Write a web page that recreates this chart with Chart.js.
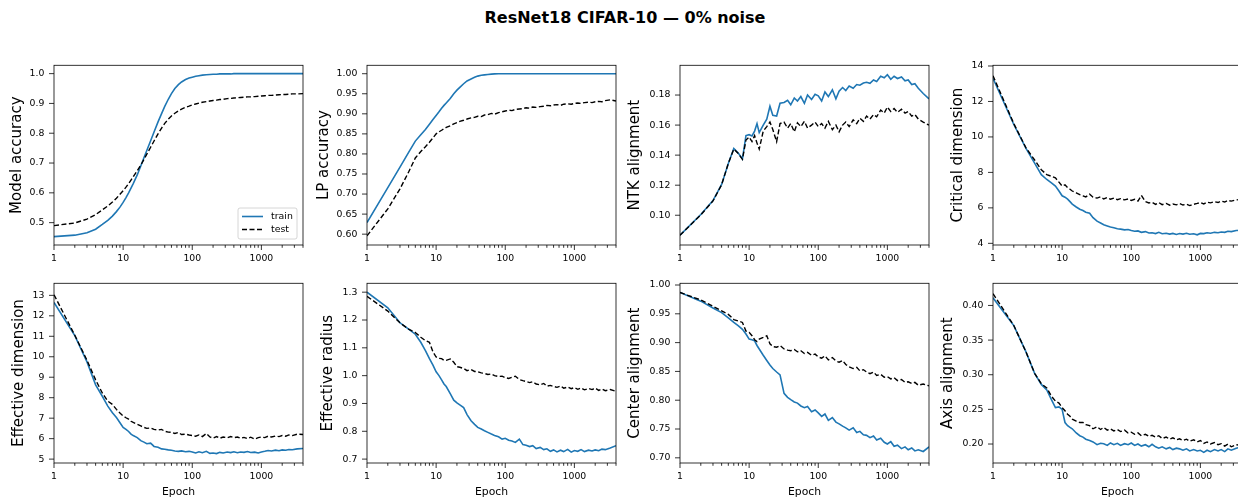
<!DOCTYPE html>
<html>
<head>
<meta charset="utf-8">
<script src="https://cdn.jsdelivr.net/npm/chart.js@4.4.1/dist/chart.umd.min.js"></script>
<style>
  html, body { margin: 0; padding: 0; background: #fff; }
  body { width: 1238px; height: 500px; position: relative; overflow: hidden; font-family: 'DejaVu Sans', sans-serif; }
  #title { position: absolute; left: 425px; width: 400px; top: 8px; line-height: 20px; text-align: center;
           font-weight: bold; font-size: 16px; color: #000; }
  canvas { position: absolute; }
</style>
</head>
<body>
<div id="title">ResNet18 CIFAR-10 — 0% noise</div>
<script>
const epochs = [1, 2, 3, 4, 5, 6, 7, 8, 9, 10, 11, 12, 13, 14,
  16, 18, 20, 22, 25, 28, 32, 36, 40, 45, 50, 56, 63, 70, 80, 90, 100,
  112, 125, 140, 160, 180, 200, 225, 250, 280, 320, 360, 400, 450, 500, 560, 630, 700, 800, 900, 1000,
  1120, 1250, 1400, 1600, 1800, 2000, 2250, 2500, 2800, 3300, 4000];
const epochTicks = [1, 10, 100, 1000];

const accTrain = [0.453, 0.458, 0.466, 0.478, 0.494, 0.508, 0.522, 0.537, 0.552, 0.568, 0.584, 0.600, 0.616, 0.631,
  0.660, 0.690, 0.718, 0.742, 0.775, 0.804, 0.838, 0.866, 0.890, 0.914, 0.933, 0.950, 0.963, 0.972, 0.980, 0.985, 0.988,
  0.991, 0.993, 0.995, 0.996, 0.997, 0.998, 0.998, 0.999, 0.999, 0.999, 0.999, 1.0, 1.0, 1.0, 1.0, 1.0, 1.0, 1.0, 1.0, 1.0,
  1.0, 1.0, 1.0, 1.0, 1.0, 1.0, 1.0, 1.0, 1.0, 1.0, 1.0];
const accTest = [0.490, 0.499, 0.512, 0.527, 0.543, 0.556, 0.569, 0.582, 0.595, 0.607, 0.619, 0.631, 0.643, 0.654,
  0.674, 0.693, 0.712, 0.730, 0.753, 0.774, 0.798, 0.817, 0.833, 0.847, 0.858, 0.867, 0.875, 0.881, 0.887, 0.891, 0.895,
  0.898, 0.901, 0.904, 0.906, 0.908, 0.910, 0.911, 0.913, 0.914, 0.916, 0.917, 0.918, 0.919, 0.920, 0.921, 0.922, 0.922, 0.923, 0.924, 0.925,
  0.926, 0.927, 0.927, 0.928, 0.929, 0.930, 0.930, 0.931, 0.932, 0.932, 0.933];

const lpTrain = [0.629, 0.716, 0.767, 0.804, 0.832, 0.848, 0.861, 0.874, 0.886, 0.896, 0.905, 0.914, 0.921, 0.927,
  0.938, 0.950, 0.959, 0.966, 0.975, 0.982, 0.987, 0.991, 0.994, 0.996, 0.997, 0.998, 0.999, 0.9995, 0.9997, 0.9998, 0.9999,
  1.0, 1.0, 1.0, 1.0, 1.0, 1.0, 1.0, 1.0, 1.0, 1.0, 1.0, 1.0, 1.0, 1.0, 1.0, 1.0, 1.0, 1.0, 1.0, 1.0,
  1.0, 1.0, 1.0, 1.0, 1.0, 1.0, 1.0, 1.0, 1.0, 1.0, 1.0];
const lpTest = [0.596, 0.663, 0.713, 0.755, 0.790, 0.806, 0.818, 0.829, 0.840, 0.850, 0.855, 0.859, 0.863, 0.866,
  0.870, 0.875, 0.878, 0.881, 0.884, 0.887, 0.890, 0.891, 0.894, 0.893, 0.897, 0.898, 0.901, 0.899, 0.903, 0.905, 0.907,
  0.909, 0.908, 0.911, 0.912, 0.913, 0.915, 0.914, 0.917, 0.916, 0.918, 0.919, 0.921, 0.920, 0.922, 0.923, 0.921, 0.924, 0.925, 0.924, 0.926,
  0.927, 0.926, 0.928, 0.929, 0.928, 0.930, 0.931, 0.930, 0.933, 0.935, 0.932];

const ntkTrain = [0.0867, 0.1005, 0.1098, 0.1205, 0.1345, 0.1445, 0.1412, 0.1375, 0.1530, 0.1536, 0.1528, 0.1560, 0.1610, 0.1550,
  0.1600, 0.1640, 0.1725, 0.1665, 0.1660, 0.1745, 0.1750, 0.1765, 0.1735, 0.1780, 0.1760, 0.1790, 0.1745, 0.1800, 0.1770, 0.1805, 0.1795,
  0.1760, 0.1820, 0.1790, 0.1835, 0.1775, 0.1825, 0.1850, 0.1830, 0.1860, 0.1845, 0.1870, 0.1865, 0.1880, 0.1885, 0.1878, 0.1900, 0.1890, 0.1925, 0.1915, 0.1935,
  0.1905, 0.1925, 0.1910, 0.1920, 0.1895, 0.1900, 0.1870, 0.1875, 0.1845, 0.1810, 0.1775];
const ntkTest = [0.0867, 0.1003, 0.1095, 0.1203, 0.1345, 0.1440, 0.1410, 0.1372, 0.1500, 0.1520, 0.1490, 0.1530, 0.1480, 0.1440,
  0.1560, 0.1590, 0.1620, 0.1570, 0.1490, 0.1610, 0.1620, 0.1580, 0.1610, 0.1555, 0.1615, 0.1590, 0.1625, 0.1580, 0.1600, 0.1620, 0.1590,
  0.1610, 0.1580, 0.1625, 0.1570, 0.1600, 0.1555, 0.1600, 0.1620, 0.1590, 0.1635, 0.1610, 0.1645, 0.1625, 0.1660, 0.1640, 0.1670, 0.1655, 0.1700, 0.1680, 0.1720,
  0.1690, 0.1710, 0.1685, 0.1705, 0.1680, 0.1690, 0.1660, 0.1670, 0.1640, 0.1620, 0.1600];

const critTrain = [13.30, 10.70, 9.35, 8.52, 7.87, 7.60, 7.41, 7.23, 6.95, 6.68, 6.60, 6.49, 6.35, 6.21,
  6.05, 5.92, 5.85, 5.75, 5.70, 5.45, 5.25, 5.15, 5.05, 4.98, 4.92, 4.88, 4.82, 4.80, 4.76, 4.78, 4.72,
  4.68, 4.70, 4.62, 4.66, 4.58, 4.60, 4.55, 4.62, 4.54, 4.57, 4.52, 4.56, 4.50, 4.55, 4.52, 4.57, 4.51, 4.54, 4.48, 4.56,
  4.55, 4.60, 4.57, 4.62, 4.60, 4.64, 4.62, 4.68, 4.66, 4.72, 4.74];
const critTest = [13.45, 10.75, 9.38, 8.70, 8.15, 7.87, 7.78, 7.69, 7.45, 7.23, 7.30, 7.14, 7.05, 6.95,
  6.85, 6.75, 6.68, 6.62, 6.77, 6.60, 6.55, 6.62, 6.50, 6.58, 6.49, 6.55, 6.46, 6.52, 6.45, 6.50, 6.42,
  6.48, 6.38, 6.70, 6.35, 6.28, 6.32, 6.20, 6.30, 6.18, 6.25, 6.15, 6.22, 6.17, 6.24, 6.16, 6.21, 6.13, 6.20, 6.25, 6.30,
  6.22, 6.32, 6.28, 6.35, 6.30, 6.38, 6.33, 6.42, 6.38, 6.45, 6.48];

const effDimTrain = [12.65, 11.03, 9.75, 8.63, 8.07, 7.59, 7.27, 7.03, 6.78, 6.55, 6.45, 6.35, 6.22, 6.15,
  6.05, 5.90, 5.83, 5.75, 5.78, 5.62, 5.58, 5.50, 5.48, 5.45, 5.43, 5.40, 5.38, 5.40, 5.36, 5.38, 5.35,
  5.30, 5.36, 5.31, 5.38, 5.28, 5.30, 5.27, 5.33, 5.30, 5.35, 5.32, 5.36, 5.31, 5.35, 5.33, 5.37, 5.32, 5.34, 5.30, 5.35,
  5.38, 5.42, 5.40, 5.44, 5.41, 5.45, 5.43, 5.47, 5.46, 5.50, 5.52];
const effDimTest = [13.03, 11.05, 9.83, 8.87, 8.23, 7.83, 7.67, 7.43, 7.25, 7.11, 7.02, 6.95, 6.85, 6.79,
  6.70, 6.62, 6.55, 6.50, 6.52, 6.45, 6.42, 6.45, 6.36, 6.32, 6.31, 6.25, 6.30, 6.20, 6.22, 6.18, 6.15,
  6.12, 6.18, 6.10, 6.25, 6.08, 6.03, 6.10, 6.02, 6.08, 6.04, 6.10, 6.05, 6.08, 6.02, 6.06, 6.00, 6.07, 5.98, 6.05, 6.08,
  6.05, 6.12, 6.08, 6.13, 6.10, 6.15, 6.12, 6.18, 6.15, 6.22, 6.20];

const effRadTrain = [1.300, 1.244, 1.190, 1.167, 1.149, 1.120, 1.090, 1.061, 1.038, 1.014, 1.000, 0.985, 0.970, 0.961,
  0.935, 0.912, 0.902, 0.895, 0.885, 0.860, 0.838, 0.825, 0.814, 0.808, 0.802, 0.796, 0.790, 0.785, 0.780, 0.772, 0.775,
  0.768, 0.765, 0.760, 0.772, 0.752, 0.750, 0.745, 0.748, 0.738, 0.742, 0.734, 0.737, 0.728, 0.733, 0.726, 0.732, 0.727, 0.735, 0.725, 0.731,
  0.728, 0.734, 0.727, 0.732, 0.729, 0.733, 0.730, 0.736, 0.734, 0.740, 0.748];
const effRadTest = [1.285, 1.232, 1.190, 1.167, 1.155, 1.138, 1.126, 1.120, 1.085, 1.067, 1.062, 1.061, 1.055, 1.055,
  1.060, 1.048, 1.032, 1.030, 1.026, 1.018, 1.022, 1.015, 1.014, 1.010, 1.008, 1.004, 1.006, 1.000, 0.997, 0.998, 0.993,
  0.990, 0.994, 0.998, 0.986, 0.982, 0.979, 0.975, 0.978, 0.970, 0.967, 0.972, 0.962, 0.965, 0.961, 0.958, 0.963, 0.955, 0.959, 0.953, 0.957,
  0.951, 0.956, 0.949, 0.954, 0.950, 0.955, 0.947, 0.952, 0.946, 0.950, 0.944];

const centerTrain = [0.987, 0.972, 0.960, 0.952, 0.943, 0.935, 0.929, 0.923, 0.915, 0.906, 0.905, 0.903, 0.895, 0.889,
  0.878, 0.869, 0.861, 0.855, 0.849, 0.844, 0.812, 0.805, 0.801, 0.797, 0.795, 0.790, 0.787, 0.789, 0.780, 0.783, 0.778,
  0.772, 0.776, 0.765, 0.770, 0.762, 0.759, 0.755, 0.752, 0.748, 0.752, 0.744, 0.746, 0.740, 0.739, 0.735, 0.738, 0.731, 0.734, 0.727, 0.724,
  0.728, 0.720, 0.722, 0.716, 0.719, 0.714, 0.717, 0.712, 0.714, 0.711, 0.719];
const centerTest = [0.987, 0.974, 0.963, 0.955, 0.949, 0.940, 0.9375, 0.935, 0.920, 0.918, 0.912, 0.905, 0.902, 0.906,
  0.909, 0.912, 0.898, 0.893, 0.892, 0.895, 0.889, 0.887, 0.886, 0.888, 0.884, 0.886, 0.881, 0.883, 0.878, 0.880, 0.875,
  0.873, 0.877, 0.870, 0.874, 0.868, 0.866, 0.869, 0.862, 0.858, 0.855, 0.857, 0.851, 0.853, 0.849, 0.846, 0.849, 0.843, 0.845, 0.840, 0.841,
  0.837, 0.839, 0.834, 0.836, 0.831, 0.832, 0.829, 0.831, 0.826, 0.828, 0.825];

const axisTrain = [0.411, 0.371, 0.333, 0.302, 0.286, 0.278, 0.264, 0.2525, 0.2535, 0.250, 0.231, 0.2265, 0.224, 0.222,
  0.216, 0.212, 0.210, 0.207, 0.205, 0.203, 0.199, 0.201, 0.2005, 0.198, 0.2015, 0.199, 0.201, 0.198, 0.2005, 0.199, 0.2015,
  0.198, 0.200, 0.197, 0.199, 0.196, 0.1995, 0.196, 0.194, 0.196, 0.193, 0.195, 0.192, 0.194, 0.193, 0.191, 0.193, 0.190, 0.192, 0.190, 0.191,
  0.188, 0.191, 0.189, 0.192, 0.190, 0.192, 0.189, 0.193, 0.191, 0.194, 0.196];
const axisTest = [0.417, 0.371, 0.333, 0.302, 0.287, 0.281, 0.269, 0.262, 0.259, 0.2525, 0.248, 0.243, 0.240, 0.236,
  0.233, 0.231, 0.231, 0.228, 0.2265, 0.222, 0.225, 0.221, 0.224, 0.220, 0.222, 0.219, 0.221, 0.218, 0.220, 0.216, 0.217,
  0.214, 0.216, 0.212, 0.214, 0.211, 0.2125, 0.210, 0.212, 0.208, 0.210, 0.207, 0.209, 0.206, 0.2075, 0.205, 0.207, 0.204, 0.206, 0.203, 0.205,
  0.201, 0.203, 0.200, 0.202, 0.199, 0.2005, 0.197, 0.200, 0.196, 0.199, 0.198];

// y tick labels per panel
const accTicks = ['0.5', '0.6', '0.7', '0.8', '0.9', '1.0'];
const lpTicks = ['0.60', '0.65', '0.70', '0.75', '0.80', '0.85', '0.90', '0.95', '1.00'];
const ntkTicks = ['0.10', '0.12', '0.14', '0.16', '0.18'];
const critTicks = ['4', '6', '8', '10', '12', '14'];
const effDimTicks = ['5', '6', '7', '8', '9', '10', '11', '12', '13'];
const effRadTicks = ['0.7', '0.8', '0.9', '1.0', '1.1', '1.2', '1.3'];
const centerTicks = ['0.70', '0.75', '0.80', '0.85', '0.90', '0.95', '1.00'];
const axisTicks = ['0.20', '0.25', '0.30', '0.35', '0.40'];

const panels = [
  { label: 'Model accuracy', train: accTrain, test: accTest, ticks: accTicks, min: 0.425, max: 1.028, titlePad: 14.5, legend: true },
  { label: 'LP accuracy', train: lpTrain, test: lpTest, ticks: lpTicks, min: 0.573, max: 1.021, titlePad: 8 },
  { label: 'NTK alignment', train: ntkTrain, test: ntkTest, ticks: ntkTicks, min: 0.0802, max: 0.1998, titlePad: 6 },
  { label: 'Critical dimension', train: critTrain, test: critTest, ticks: critTicks, min: 3.906, max: 14.04, titlePad: 16 },
  { label: 'Effective dimension', train: effDimTrain, test: effDimTest, ticks: effDimTicks, min: 4.81, max: 13.59, titlePad: 15.7 },
  { label: 'Effective radius', train: effRadTrain, test: effRadTest, ticks: effRadTicks, min: 0.686, max: 1.332, titlePad: 12.3 },
  { label: 'Center alignment', train: centerTrain, test: centerTest, ticks: centerTicks, min: 0.691, max: 1.003, titlePad: 6 },
  { label: 'Axis alignment', train: axisTrain, test: axisTest, ticks: axisTicks, min: 0.1726, max: 0.432, titlePad: 6.3 },
];

const plotLefts = [54, 367, 680, 993];
const plotTops = [62, 280];
const PLOT_W = 249, PLOT_H = 183, PAD_L = 60, PAD_T = 12, PAD_R = 10, X_H = 37;
const FONT = 'DejaVu Sans';

// matplotlib-style box with outward ticks
const framePlugin = {
  id: 'frame',
  afterDraw(chart) {
    const { ctx, chartArea: a, scales } = chart;
    ctx.save();
    ctx.strokeStyle = '#000';
    ctx.lineWidth = 0.8;
    ctx.strokeRect(a.left, a.top, a.right - a.left, a.bottom - a.top);
    ctx.beginPath();
    scales.x.ticks.forEach(t => {
      const px = scales.x.getPixelForValue(t.value);
      ctx.moveTo(px, a.bottom);
      ctx.lineTo(px, a.bottom + (t.major ? 5 : 2.8));
    });
    scales.y.ticks.forEach(t => {
      const py = scales.y.getPixelForValue(t.value);
      ctx.moveTo(a.left - 5, py);
      ctx.lineTo(a.left, py);
    });
    ctx.stroke();
    ctx.restore();
  }
};

const boxLegend = {
  id: 'boxLegend',
  afterDraw(chart, args, opts) {
    if (!opts.show) return;
    const { ctx, chartArea: a } = chart;
    const w = 59, h = 31;
    const x = a.right - 6 - w, y = a.bottom - 6 - h;
    ctx.save();
    ctx.fillStyle = 'rgba(255,255,255,0.8)';
    ctx.strokeStyle = '#cccccc';
    ctx.lineWidth = 0.8;
    ctx.beginPath();
    ctx.roundRect(x, y, w, h, 2);
    ctx.fill();
    ctx.stroke();
    chart.data.datasets.forEach((ds, i) => {
      const cy = y + 8.5 + i * 13;
      ctx.strokeStyle = ds.borderColor;
      ctx.lineWidth = ds.borderWidth;
      ctx.setLineDash(ds.borderDash || []);
      ctx.beginPath();
      ctx.moveTo(x + 4, cy);
      ctx.lineTo(x + 25, cy);
      ctx.stroke();
      ctx.setLineDash([]);
      ctx.fillStyle = '#000';
      ctx.font = '9.4px "' + FONT + '"';
      ctx.textBaseline = 'middle';
      ctx.fillText(ds.label, x + 33, cy);
    });
    ctx.restore();
  }
};

function minorLogTicks(min, max) {
  const out = [];
  for (let d = 1; d <= max; d *= 10) {
    for (let m = 1; m <= 9; m++) {
      const v = m * d;
      if (v >= min && v <= max) out.push({ value: v, major: m === 1 });
    }
  }
  return out;
}

panels.forEach((p, idx) => {
  const row = Math.floor(idx / 4), col = idx % 4;
  const canvas = document.createElement('canvas');
  canvas.width = PAD_L + PLOT_W + PAD_R;
  canvas.height = PAD_T + PLOT_H + X_H;
  canvas.style.left = (plotLefts[col] - PAD_L) + 'px';
  canvas.style.top = (plotTops[row] - PAD_T) + 'px';
  document.body.appendChild(canvas);

  new Chart(canvas.getContext('2d'), {
    type: 'line',
    data: {
      datasets: [{
        label: 'train',
        data: epochs.map((e, i) => ({ x: e, y: p.train[i] })),
        borderColor: '#1f77b4',
        borderWidth: 1.6,
        pointRadius: 0,
        order: 2
      }, {
        label: 'test',
        data: epochs.map((e, i) => ({ x: e, y: p.test[i] })),
        borderColor: '#000000',
        borderWidth: 1.4,
        borderDash: [5, 2.5],
        pointRadius: 0,
        order: 1
      }]
    },
    options: {
      responsive: false,
      animation: false,
      layout: { padding: { left: 0, top: PAD_T, right: PAD_R, bottom: 0 } },
      plugins: {
        legend: { display: false },
        tooltip: { enabled: false },
        boxLegend: { show: !!p.legend }
      },
      scales: {
        x: {
          type: 'logarithmic',
          min: 1,
          max: 4000,
          afterFit: s => { s.height = X_H; },
          afterBuildTicks: s => { s.ticks = minorLogTicks(1, 4000); },
          grid: { display: false, drawTicks: false },
          border: { display: false },
          ticks: {
            autoSkip: false,
            maxRotation: 0,
            padding: 8.4,
            color: '#000',
            font: { family: FONT, size: 9.3 },
            callback: v => epochTicks.includes(v) ? String(v) : ''
          },
          title: {
            display: row === 1,
            text: 'Epoch',
            color: '#000',
            font: { family: FONT, size: 10.8 },
            padding: { top: 0, bottom: 1.8 }
          }
        },
        y: {
          type: 'linear',
          min: p.min,
          max: p.max,
          afterFit: s => { s.width = PAD_L; },
          afterBuildTicks: s => { s.ticks = p.ticks.map(t => ({ value: parseFloat(t) })); },
          grid: { display: false, drawTicks: false },
          border: { display: false },
          ticks: {
            autoSkip: false,
            padding: 9.7,
            color: '#000',
            font: { family: FONT, size: 9.3 },
            callback: (v, i) => p.ticks[i]
          },
          title: {
            display: true,
            text: p.label,
            color: '#000',
            font: { family: FONT, size: 15 },
            padding: { top: p.titlePad, bottom: 0 }
          }
        }
      }
    },
    plugins: [framePlugin, boxLegend]
  });
});
</script>
</body>
</html>
